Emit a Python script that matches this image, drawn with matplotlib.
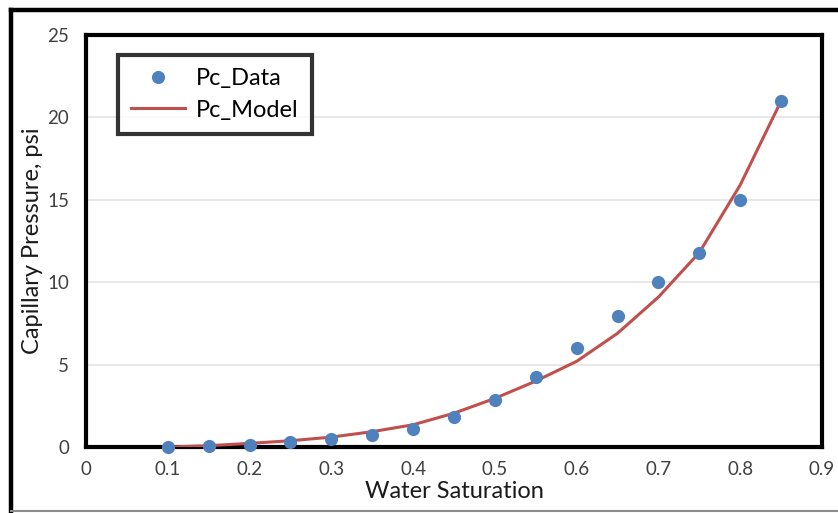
import matplotlib.pyplot as plt
from matplotlib.lines import Line2D

sw = [0.10, 0.15, 0.20, 0.25, 0.30, 0.35, 0.40, 0.45, 0.50, 0.55, 0.60, 0.65, 0.70, 0.75, 0.80, 0.85]
pc_data = [0.0, 0.05, 0.15, 0.33, 0.5, 0.7, 1.1, 1.8, 2.85, 4.25, 6.0, 7.95, 10.0, 11.8, 15.0, 21.0]
pc_model = [0.0, 0.08, 0.22, 0.38, 0.6, 0.93, 1.35, 2.05, 2.95, 4.0, 5.2, 6.9, 9.1, 11.8, 15.9, 21.0]

x_ticks = [0, 0.1, 0.2, 0.3, 0.4, 0.5, 0.6, 0.7, 0.8, 0.9]
x_labels = ["0", "0.1", "0.2", "0.3", "0.4", "0.5", "0.6", "0.7", "0.8", "0.9"]
y_ticks = [0, 5, 10, 15, 20, 25]

plt.rcParams["font.family"] = ["Lato", "DejaVu Sans"]

W, H = 838, 513
fig = plt.figure(figsize=(W / 100, H / 100), dpi=100)
ax = fig.add_axes([86 / W, (H - 447) / H, (822 - 86) / W, (447 - 35) / H])

# outer chart frame
fig.add_artist(Line2D([11 / W, 11 / W], [1 - 10 / H, 1 - 511 / H], transform=fig.transFigure,
                      color="black", lw=3.2))
fig.add_artist(Line2D([11 / W, 1], [1 - 10 / H, 1 - 10 / H], transform=fig.transFigure,
                      color="black", lw=3.2))
fig.add_artist(Line2D([11 / W, 1], [1 - 511 / H, 1 - 511 / H], transform=fig.transFigure,
                      color="#8c8c8c", lw=1.5))

ax.plot(sw, pc_model, color="#C0504D", lw=2.2, zorder=3, label="Pc_Model")
ax.plot(sw, pc_data, "o", color="#4F81BD", ms=9.5, mec="none", zorder=4, label="Pc_Data",
        clip_on=False)

ax.set_xlim(0, 0.9)
ax.set_ylim(0, 25)
ax.set_xticks(x_ticks)
ax.set_xticklabels(x_labels)
ax.set_yticks(y_ticks)
ax.tick_params(length=0, labelsize=13.5, colors="#404040", pad=12)
ax.tick_params(axis="x", pad=10)
ax.yaxis.grid(True, color="#e3e3e3", lw=1.2)
ax.set_axisbelow(True)
for s in ax.spines.values():
    s.set_linewidth(3)
    s.set_color("black")

ax.set_xlabel("Water Saturation", fontsize=17, color="#1a1a1a", labelpad=2)
ax.set_ylabel("Capillary Pressure, psi", fontsize=17, color="#1a1a1a", labelpad=3)

handles, labels = ax.get_legend_handles_labels()
leg = ax.legend(handles[::-1], labels[::-1], loc="upper left", bbox_to_anchor=(32 / 736, 1 - 20 / 412),
                fontsize=17, frameon=True, fancybox=False, borderpad=0.55, labelspacing=0.45,
                handlelength=2.3, handletextpad=0.45, borderaxespad=0)
leg.get_frame().set_edgecolor("black")
leg.get_frame().set_linewidth(3)

fig.savefig("out.png", dpi=100)
